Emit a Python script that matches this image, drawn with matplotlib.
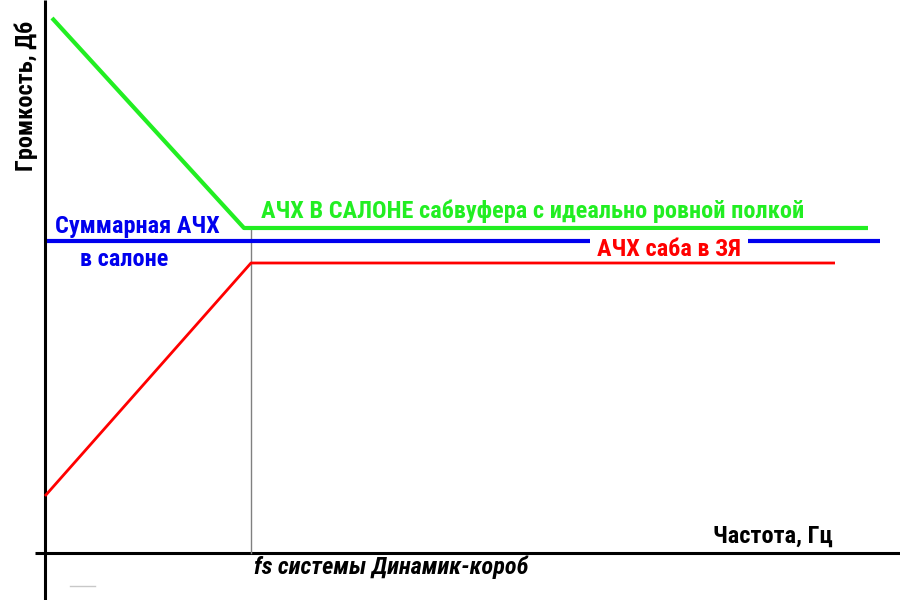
import matplotlib

matplotlib.use("Agg")

import matplotlib.pyplot as plt

# canvas units = pixels of the original drawing, y measured upwards
green_x = [52, 244, 868]
green_y = [582, 372, 372]

blue_x = [47, 880]
blue_y = [359, 359]

red_x = [45, 251, 835]
red_y = [104, 337, 337]

fs_x = 251
fs_y = [47, 372]

FONT = dict(family=["Roboto Condensed", "DejaVu Sans"], fontsize=17.5,
            fontweight="bold")

fig = plt.figure(figsize=(9, 6), dpi=100)
ax = fig.add_axes([0, 0, 1, 1])
ax.set_xlim(0, 900)
ax.set_ylim(0, 600)
ax.axis("off")

# axes
ax.plot([45, 45], [0, 600], color="black", lw=2.2, solid_capstyle="butt")
ax.plot([35, 900], [47, 47], color="black", lw=2.2, solid_capstyle="butt")
# faint smudge left in the original scan
ax.plot([70, 95], [14, 14], color="#c8c8c8", lw=1)

# fs marker
ax.plot([fs_x, fs_x], fs_y, color="#808080", lw=1)

ax.plot(blue_x, blue_y, color="#0000ee", lw=3, solid_capstyle="butt")
ax.plot(green_x, green_y, color="#22ee22", lw=3, solid_capstyle="butt")
ax.plot(red_x, red_y, color="#ff0000", lw=2, solid_capstyle="butt", zorder=5)

ax.text(533, 389, "АЧХ В САЛОНЕ сабвуфера с идеально ровной полкой",
        color="#22ee22", ha="center", va="center", **FONT)
ax.text(137, 373, "Суммарная АЧХ", color="#0000ee",
        ha="center", va="center", **FONT)
ax.text(124, 341, "в салоне", color="#0000ee",
        ha="center", va="center", **FONT)
ax.text(669, 351, "АЧХ саба в ЗЯ", color="#ff0000",
        ha="center", va="center",
        bbox=dict(facecolor="white", edgecolor="none", pad=5), **FONT)

ax.text(773, 64, "Частота, Гц", color="black",
        ha="center", va="center", **FONT)
ax.text(391, 33, "fs системы Динамик-короб", color="black",
        fontstyle="italic", ha="center", va="center", **FONT)
ax.text(26, 504, "Громкость, Дб", color="black",
        ha="center", va="center", rotation=90, **FONT)

fig.savefig("out.png", dpi=100, facecolor="white")
